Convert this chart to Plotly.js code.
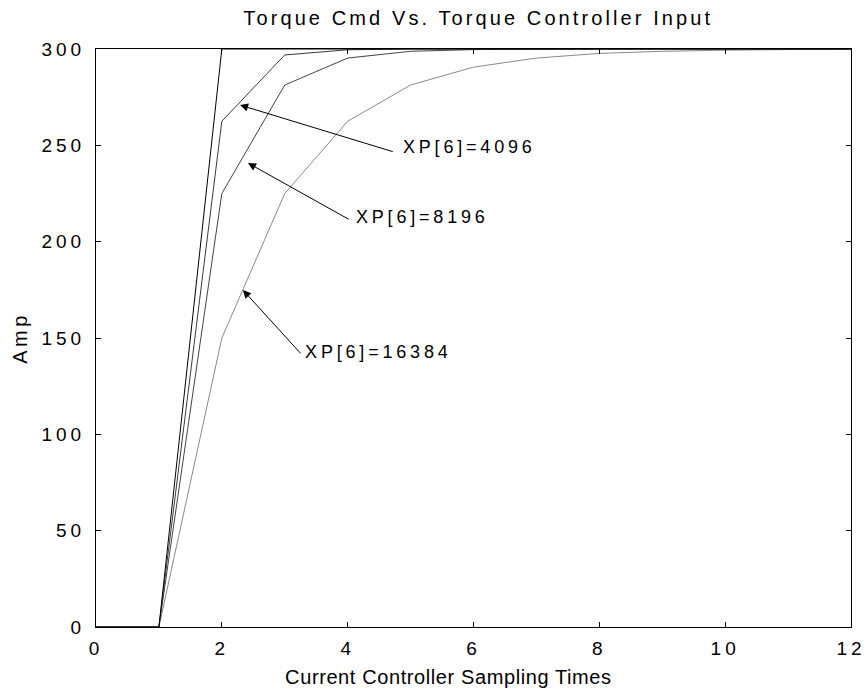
<!DOCTYPE html>
<html>
<head>
<meta charset="utf-8">
<script src="https://cdn.plot.ly/plotly-3.0.1.min.js"></script>
<style>
html,body{margin:0;padding:0;background:#fff;}
#chart{width:868px;height:697px;}
#chart .xtick text, #chart .ytick text{letter-spacing:4px;}
#chart .annotation-text{letter-spacing:3.8px;}
#chart .gtitle{letter-spacing:3.1px;}
#chart .ytitle{letter-spacing:3.5px;}
</style>
</head>
<body>
<div id="chart"></div>
<script>
var samples = [0,1,2,3,4,5,6,7,8,9,10,11,12];
var ampFast  = [0,0,300,300,300,300,300,300,300,300,300,300,300];
var amp4096  = [0,0,262.5,296.9,299.6,300,300,300,300,300,300,300,300];
var amp8196  = [0,0,225,281.3,295.3,298.8,299.7,300,300,300,300,300,300];
var amp16384 = [0,0,150,225,262.5,281.3,290.6,295.3,297.7,298.8,299.4,299.7,300];
var labels = ['XP[6]=4096','XP[6]=8196','XP[6]=16384'];
var arrowHeads = [[2.29,270.9],[2.416,240.8],[2.336,174.9]];
var arrowTails = [[4.74,246.5],[4.04,211.2],[3.274,141.2]];
var labelPos = [[5.15,249.1],[4.40,212.8],[3.62,142.7]];
var xAxisTitle = 'Current Controller Sampling Times';

var font = 'Liberation Sans, Arial, sans-serif';
var traces = [
  {x:samples, y:amp16384, mode:'lines', line:{color:'#8a8a8a', width:1}},
  {x:samples, y:amp8196, mode:'lines', line:{color:'#444444', width:1}},
  {x:samples, y:amp4096, mode:'lines', line:{color:'#3a3a3a', width:1}},
  {x:samples, y:ampFast, mode:'lines', line:{color:'#000000', width:1}}
];
var ann = [];
for (var i=0;i<3;i++){
  ann.push({x:arrowHeads[i][0], y:arrowHeads[i][1], xref:'x', yref:'y',
    ax:arrowTails[i][0], ay:arrowTails[i][1], axref:'x', ayref:'y',
    text:'', showarrow:true, arrowhead:2, arrowsize:1.6, arrowwidth:1, arrowcolor:'#000'});
  ann.push({x:labelPos[i][0], y:labelPos[i][1], xref:'x', yref:'y', text:labels[i],
    showarrow:false, xanchor:'left', yanchor:'middle', font:{family:font, size:18, color:'#000'}});
}
ann.push({x:0.4675, y:-0.0865, xref:'paper', yref:'paper', text:xAxisTitle, showarrow:false,
  xanchor:'center', yanchor:'middle', font:{family:font, size:20, color:'#000'}});

var layout = {
  width:868, height:697,
  margin:{l:96, r:17, t:49, b:70},
  paper_bgcolor:'#fff', plot_bgcolor:'#fff',
  showlegend:false,
  title:{text:'Torque Cmd Vs. Torque Controller Input', x:0.551, xanchor:'center', y:0.974, yanchor:'middle',
    font:{family:font, size:20, color:'#000'}},
  xaxis:{range:[0,12], dtick:2, tick0:0, showgrid:false, zeroline:false,
    showline:true, linecolor:'#000', linewidth:1, mirror:'ticks',
    ticks:'inside', ticklen:5, tickcolor:'#000', ticklabelstandoff:4,
    tickfont:{family:font, size:19, color:'#000'}},
  yaxis:{range:[0,300], dtick:50, tick0:0, showgrid:false, zeroline:false,
    showline:true, linecolor:'#000', linewidth:1, mirror:'ticks',
    ticks:'inside', ticklen:5, tickcolor:'#000', ticklabelstandoff:6,
    tickfont:{family:font, size:19, color:'#000'},
    title:{text:'Amp', font:{family:font, size:20, color:'#000'}, standoff:20}},
  annotations:ann
};
Plotly.newPlot('chart', traces, layout, {displayModeBar:false, staticPlot:true}).then(function(){
  document.querySelectorAll('#chart .annotation-text').forEach(function(t){
    if (t.textContent === xAxisTitle) { t.style.letterSpacing = '0.6px'; }
  });
});
</script>
</body>
</html>
